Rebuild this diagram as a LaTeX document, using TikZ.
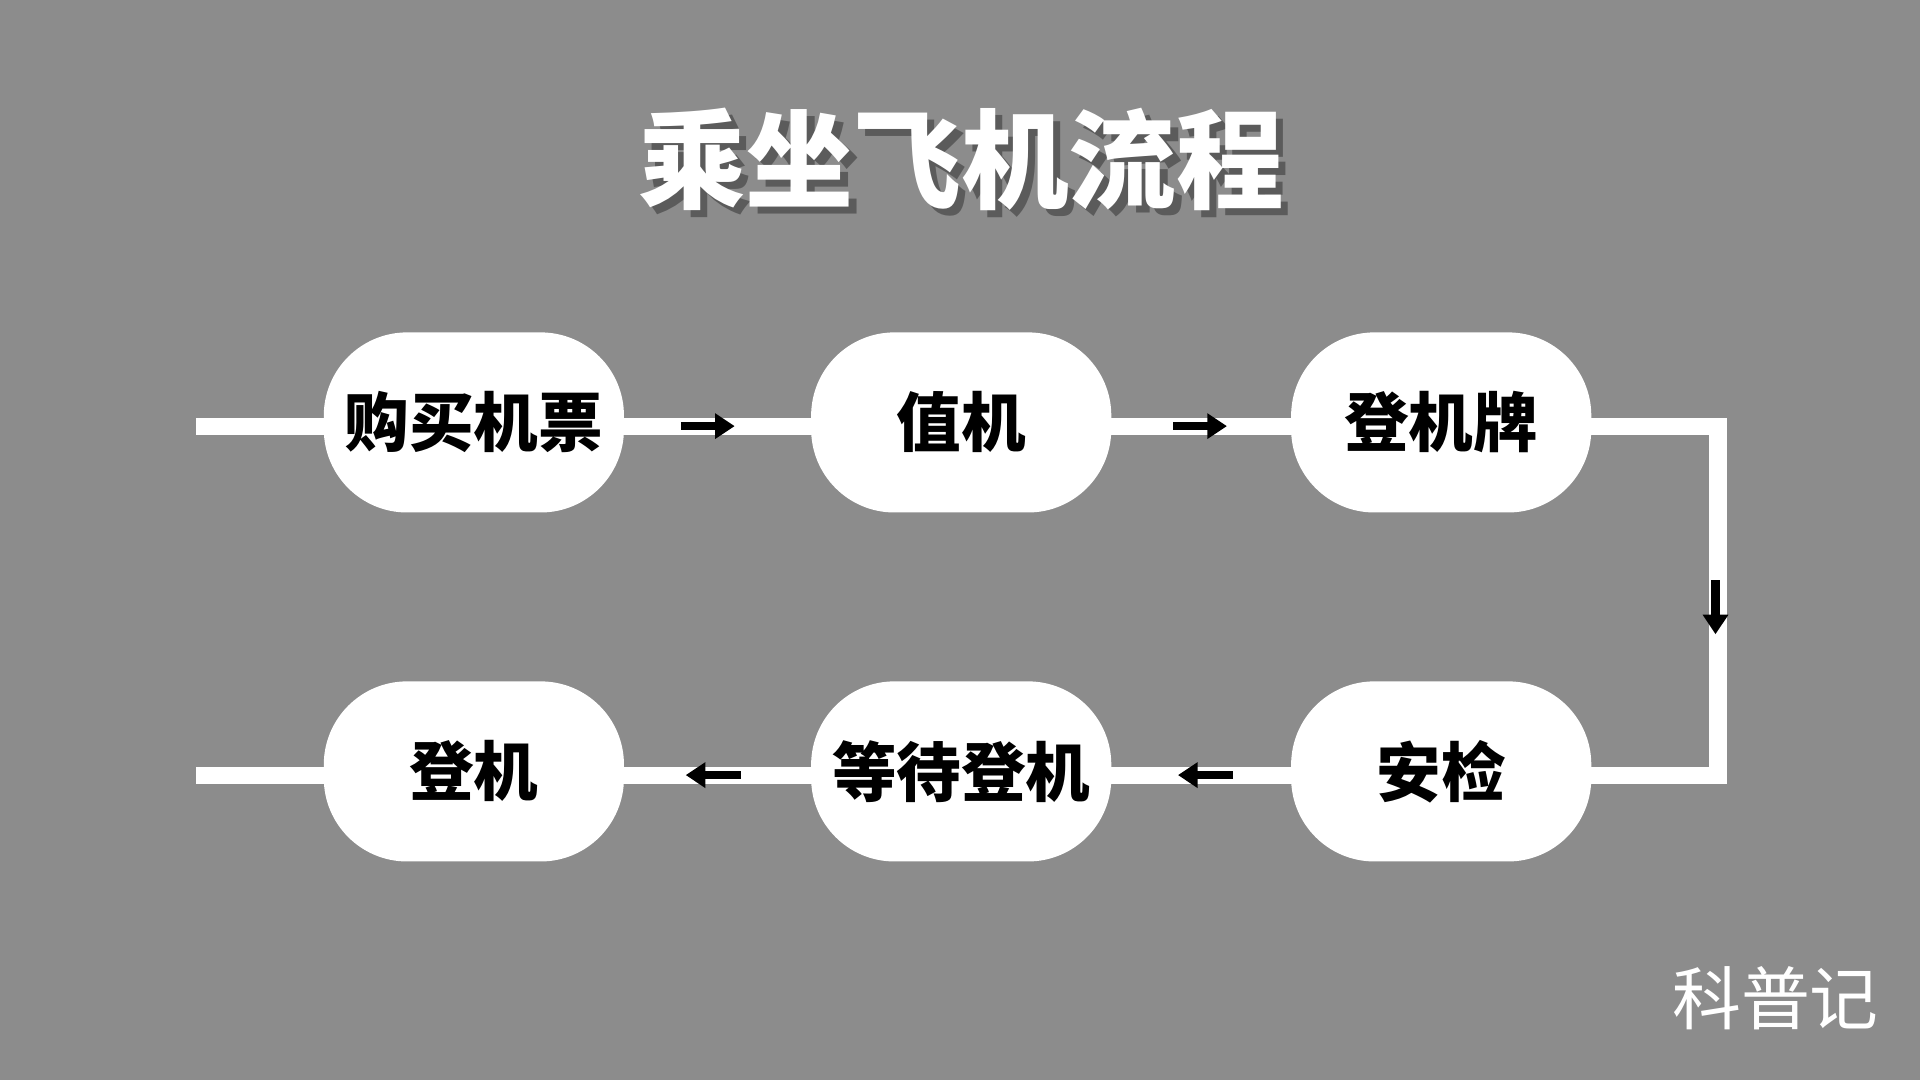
\documentclass[tikz,border=0pt]{standalone}
\usepackage{fontspec}
\newfontfamily\cjk{Noto Sans CJK SC}
\usetikzlibrary{arrows.meta}
\definecolor{bg}{HTML}{8C8C8C}
\tikzset{
 stepbox/.style={fill=white,rounded corners=0.68cm,minimum width=2.45cm,minimum height=1.47cm,font=\cjk\bfseries\fontsize{15}{15}\selectfont,text=black,inner sep=0},
 wline/.style={white,line width=0.14cm},
 arr/.style={-{Triangle[length=0.16cm,width=0.2cm]},black,line width=0.07cm},
 title/.style={font=\cjk\bfseries\fontsize{25}{25}\selectfont}
}
\begin{document}
\begin{tikzpicture}[x=0.01cm,y=-0.01cm]
\fill[bg] (0,0) rectangle (1568,882);
\useasboundingbox (0,0) rectangle (1568,882);
\coordinate (L1) at (160,348);
\coordinate (L2) at (160,633);
\coordinate (R1) at (1403,348);
\coordinate (R2) at (1403,633);
\draw[wline] (L1) -- (1300,348) -- (R1) -- (R2) -- (L2);
\node[stepbox] (a) at (387,345) {购买机票};
\node[stepbox] (b) at (785,345) {值机};
\node[stepbox] (c) at (1177,345) {登机牌};
\node[stepbox] (d) at (1177,630) {安检};
\node[stepbox] (e) at (785,630) {等待登机};
\node[stepbox] (f) at (387,630) {登机};
\draw[arr] (556,348) -- (600,348);
\draw[arr] (958,348) -- (1002,348);
\draw[arr] (1401,474) -- (1401,518);
\draw[arr] (1007,633) -- (962,633);
\draw[arr] (605,633) -- (560,633);
\node[title,text=black,opacity=0.35] (ts) at (791,136) {乘坐飞机流程};
\node[title,text=white] (t) at (785,130) {乘坐飞机流程};
\node[font=\cjk\fontsize{16}{16}\selectfont,text=white] (w) at (1450,815) {科普记};
\end{tikzpicture}
\end{document}
